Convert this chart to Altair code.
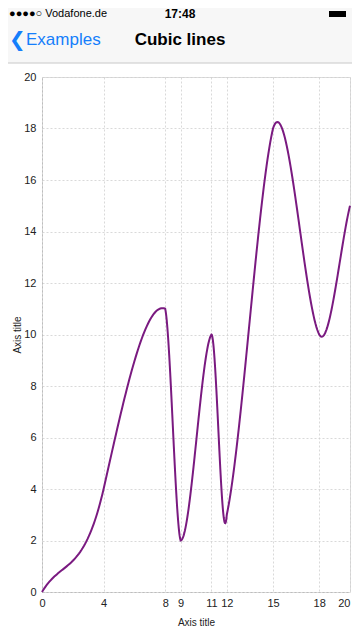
import altair as alt
import pandas as pd

# data
x_values = [0, 4, 8, 9, 11, 12, 15, 18, 20]
y_values = [0, 4, 11, 2, 10, 3, 18, 10, 15]
y_ticks = [0, 2, 4, 6, 8, 10, 12, 14, 16, 18, 20]
tension = 0.3

carrier = "●●●●○ Vodafone.de"
clock = "17:48"
back_label = "Examples"
title_text = "Cubic lines"
axis_title = "Axis title"

df = pd.DataFrame({"x": x_values, "y": y_values})

W, H = 308, 515
FONT = "Liberation Sans"
PURPLE = "#7a1a80"
BLUE = "#157efb"
T = str(tension)

# cubic path (same construction as the original chart library): control points at
# thirds in x, y control points bent by neighbouring points with a tension factor
line = alt.Chart(df).transform_window(
    window=[
        alt.WindowFieldDef(op="lag", field="x", param=1, **{"as": "px"}),
        alt.WindowFieldDef(op="lag", field="y", param=1, **{"as": "py"}),
        alt.WindowFieldDef(op="lead", field="x", param=1, **{"as": "nx"}),
        alt.WindowFieldDef(op="lead", field="y", param=1, **{"as": "ny"}),
        alt.WindowFieldDef(op="lead", field="y", param=2, **{"as": "n2y"}),
    ],
    sort=[alt.SortField("x")],
    frame=[None, None],
).transform_filter(
    "datum.nx != null"
).transform_calculate(
    p0y="datum.py == null ? datum.y : datum.py",
    p3y="datum.n2y == null ? datum.ny : datum.n2y",
).transform_calculate(
    t1="datum.py == null ? 0 : ((datum.ny - datum.y) == (datum.ny - datum.p0y) ? 0 : " + T + ")",
    t2="datum.n2y == null ? 0 : ((datum.p3y - datum.ny) == (datum.ny - datum.y) ? 0 : " + T + ")",
).transform_calculate(
    c1x="datum.x + (datum.nx - datum.x) / 3",
    c2x="datum.x + 2 * (datum.nx - datum.x) / 3",
).transform_calculate(
    c1y="datum.y - (datum.y - datum.ny) / 3 - (datum.p0y - datum.y) * datum.t1",
    c2y="datum.y - 2 * (datum.y - datum.ny) / 3 + (datum.ny - datum.p3y) * datum.t2",
    tt="sequence(0, 1.0001, 0.02)",
).transform_flatten(
    ["tt"]
).transform_calculate(
    bx="pow(1-datum.tt,3)*datum.x + 3*pow(1-datum.tt,2)*datum.tt*datum.c1x + 3*(1-datum.tt)*datum.tt*datum.tt*datum.c2x + pow(datum.tt,3)*datum.nx",
    by="pow(1-datum.tt,3)*datum.y + 3*pow(1-datum.tt,2)*datum.tt*datum.c1y + 3*(1-datum.tt)*datum.tt*datum.tt*datum.c2y + pow(datum.tt,3)*datum.ny",
).mark_line(color=PURPLE, strokeWidth=2).encode(
    x=alt.X("bx:Q", scale=alt.Scale(domain=[0, 20], nice=False),
            axis=alt.Axis(values=x_values, title=axis_title, grid=True,
                          gridColor="#cfcfcf", gridDash=[2, 2], gridWidth=0.8,
                          domainColor="#bdbdbd", domainDash=[2, 2], domainWidth=1,
                          ticks=False, labelPadding=5, labelFontSize=11,
                          labelColor="#222", labelFont=FONT, titleFont=FONT,
                          labelAlign={"condition": {"test": "datum.value == 20", "value": "right"}, "value": "center"},
                          titleFontSize=10, titleFontWeight="normal",
                          titleColor="#222", titleY=30, titleBaseline="middle",
                          labelFlush=False)),
    y=alt.Y("by:Q", scale=alt.Scale(domain=[0, 20], nice=False),
            axis=alt.Axis(values=y_ticks, title=axis_title, grid=True,
                          gridColor="#cfcfcf", gridDash=[2, 2], gridWidth=0.8,
                          domainColor="#bdbdbd", domainDash=[2, 2], domainWidth=1,
                          ticks=False, labelPadding=6, labelFontSize=11,
                          labelColor="#222", labelFont=FONT, titleFont=FONT,
                          titleFontSize=10, titleFontWeight="normal",
                          titleColor="#222", titleX=-25, titleY=H / 2,
                          titleBaseline="middle", titleAlign="center")),
    order=alt.Order("bx:Q"),
)

one = pd.DataFrame({"a": [0]})

nav_bg = alt.Chart(one).mark_rect(color="#f7f7f7").encode(
    x=alt.value(-34), x2=alt.value(W + 2), y=alt.value(-69), y2=alt.value(-14)
)
nav_line = alt.Chart(one).mark_rule(color="#c8c8c8", strokeWidth=1).encode(
    x=alt.value(-34), x2=alt.value(W + 2), y=alt.value(-14)
)

def txt(text, x, y, size, color="#000", weight="normal", align="left", font=FONT):
    return alt.Chart(pd.DataFrame({"t": [text]})).mark_text(
        fontSize=size, color=color, fontWeight=weight, align=align,
        baseline="middle", font=font
    ).encode(text="t:N", x=alt.value(x), y=alt.value(y))

t_carrier = txt(carrier, -33, -63, 11)
t_clock = txt(clock, 138, -63, 12, weight="bold", align="center")
t_back_chev = txt("❮", -33, -37, 20, color=BLUE, font="DejaVu Sans")
t_back = txt(back_label, -16, -37, 17, color=BLUE)
t_title = txt(title_text, 138, -37, 17, weight="bold", align="center")

battery = alt.Chart(one).mark_rect(color="#000").encode(
    x=alt.value(W - 21), x2=alt.value(W - 4), y=alt.value(-66), y2=alt.value(-60)
)

chart = alt.layer(
    nav_bg, nav_line, line, t_carrier, t_clock, t_back_chev, t_back, t_title, battery
).properties(
    width=W, height=H,
    autosize=alt.AutoSizeParams(type="none"),
    padding={"left": 34, "top": 69, "right": 2, "bottom": 34},
).configure_view(stroke=None).configure(background="white")

chart.save("out.html", embed_options={"renderer": "svg", "actions": False})
